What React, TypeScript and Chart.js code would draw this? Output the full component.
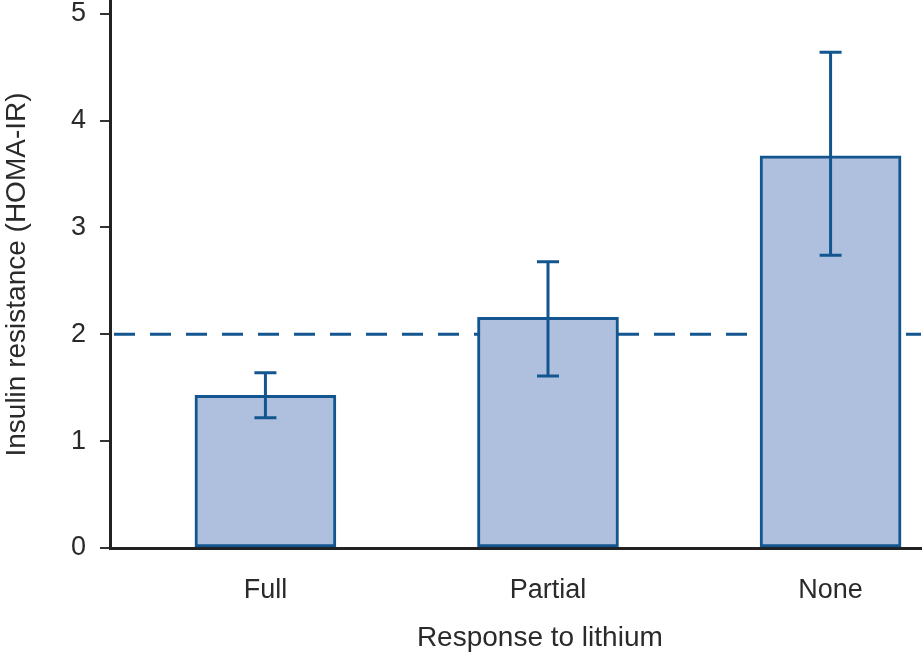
import React, { useEffect, useRef } from "react";
import { Chart, registerables } from "chart.js";

Chart.register(...registerables);

const categories = ["Full", "Partial", "None"];
const means = [1.43, 2.16, 3.67];
const errLow = [1.22, 1.61, 2.74];
const errHigh = [1.64, 2.68, 4.64];
const refLine = 2;
const yTicks = [0, 1, 2, 3, 4, 5];
const yTitle = "Insulin resistance (HOMA-IR)";
const xTitle = "Response to lithium";

const BLUE = "#12558f";
const FILL = "#aec0dd";
const TEXT = "#2a2a2a";
const FONT = "'Liberation Sans', Arial, sans-serif";

const refLinePlugin = {
  id: "refLine",
  beforeDatasetsDraw(chart: any) {
    const { ctx, chartArea, scales } = chart;
    const y = scales.y.getPixelForValue(refLine);
    ctx.save();
    ctx.strokeStyle = BLUE;
    ctx.lineWidth = 3;
    ctx.setLineDash([21, 15]);
    ctx.beginPath();
    ctx.moveTo(chartArea.left + 4, y);
    ctx.lineTo(chartArea.right, y);
    ctx.stroke();
    ctx.restore();
  },
};

const errorBarPlugin = {
  id: "errorBars",
  afterDatasetsDraw(chart: any) {
    const { ctx, scales } = chart;
    ctx.save();
    ctx.strokeStyle = BLUE;
    ctx.lineWidth = 3;
    ctx.lineCap = "butt";
    categories.forEach((_, i) => {
      const x = scales.x.getPixelForValue(i);
      const yl = scales.y.getPixelForValue(errLow[i]);
      const yh = scales.y.getPixelForValue(errHigh[i]);
      ctx.beginPath();
      ctx.moveTo(x, yl);
      ctx.lineTo(x, yh);
      ctx.moveTo(x - 11, yl);
      ctx.lineTo(x + 11, yl);
      ctx.moveTo(x - 11, yh);
      ctx.lineTo(x + 11, yh);
      ctx.stroke();
    });
    ctx.restore();
  },
};

const xTitlePlugin = {
  id: "xTitle",
  afterDraw(chart: any) {
    const { ctx, chartArea } = chart;
    ctx.save();
    ctx.fillStyle = TEXT;
    ctx.font = `28px ${FONT}`;
    ctx.textAlign = "center";
    ctx.textBaseline = "middle";
    ctx.fillText(
      xTitle,
      chartArea.left + (chartArea.right - chartArea.left) * 0.53,
      chart.height - 18
    );
    ctx.restore();
  },
};

export default function App() {
  const ref = useRef<HTMLCanvasElement | null>(null);

  useEffect(() => {
    if (!ref.current) return;
    const chart = new Chart(ref.current, {
      type: "bar",
      data: {
        datasets: [
          {
            data: categories.map((_, i) => ({ x: i, y: means[i] })),
            backgroundColor: FILL,
            borderColor: BLUE,
            borderWidth: 3,
            borderSkipped: false,
            barThickness: 141,
          },
        ],
      },
      options: {
        animation: false,
        responsive: true,
        maintainAspectRatio: false,
        layout: { autoPadding: false, padding: { top: 1, right: 2, left: 0, bottom: 0 } },
        plugins: {
          legend: { display: false },
          tooltip: { enabled: false },
        },
        scales: {
          x: {
            type: "linear",
            offset: false,
            min: -0.55,
            max: 2.32,
            afterBuildTicks: (scale: any) => {
              scale.ticks = categories.map((_, i) => ({ value: i }));
            },
            afterFit: (scale: any) => {
              scale.height = 108;
              scale.paddingLeft = 0;
              scale.paddingRight = 0;
            },
            ticks: {
              callback: (v: any) => categories[v] ?? "",
              color: TEXT,
              font: { family: FONT, size: 27 },
              padding: 26,
              maxRotation: 0,
              autoSkip: false,
            },
            grid: { display: false, drawTicks: false, offset: false },
            border: { display: true, color: "#222", width: 3 },
          },
          y: {
            type: "linear",
            min: 0,
            max: 5.12,
            afterBuildTicks: (scale: any) => {
              scale.ticks = yTicks.map((v) => ({ value: v }));
            },
            afterFit: (scale: any) => {
              scale.width = 110;
              scale.paddingTop = 0;
              scale.paddingBottom = 0;
            },
            ticks: {
              color: TEXT,
              font: { family: FONT, size: 27 },
              padding: 14,
            },
            grid: {
              display: true,
              drawOnChartArea: false,
              drawTicks: true,
              tickLength: 10,
              color: "#333",
              lineWidth: 2,
            },
            border: { display: true, color: "#222", width: 3 },
            title: {
              display: true,
              text: yTitle,
              color: TEXT,
              font: { family: FONT, size: 28 },
              padding: { top: 0, bottom: 0 },
            },
          },
        },
      },
      plugins: [refLinePlugin, errorBarPlugin, xTitlePlugin],
    } as any);
    return () => chart.destroy();
  }, []);

  return (
    <div style={{ position: "absolute", left: 0, top: 0, width: 923, height: 656 }}>
      <canvas ref={ref} />
    </div>
  );
}
